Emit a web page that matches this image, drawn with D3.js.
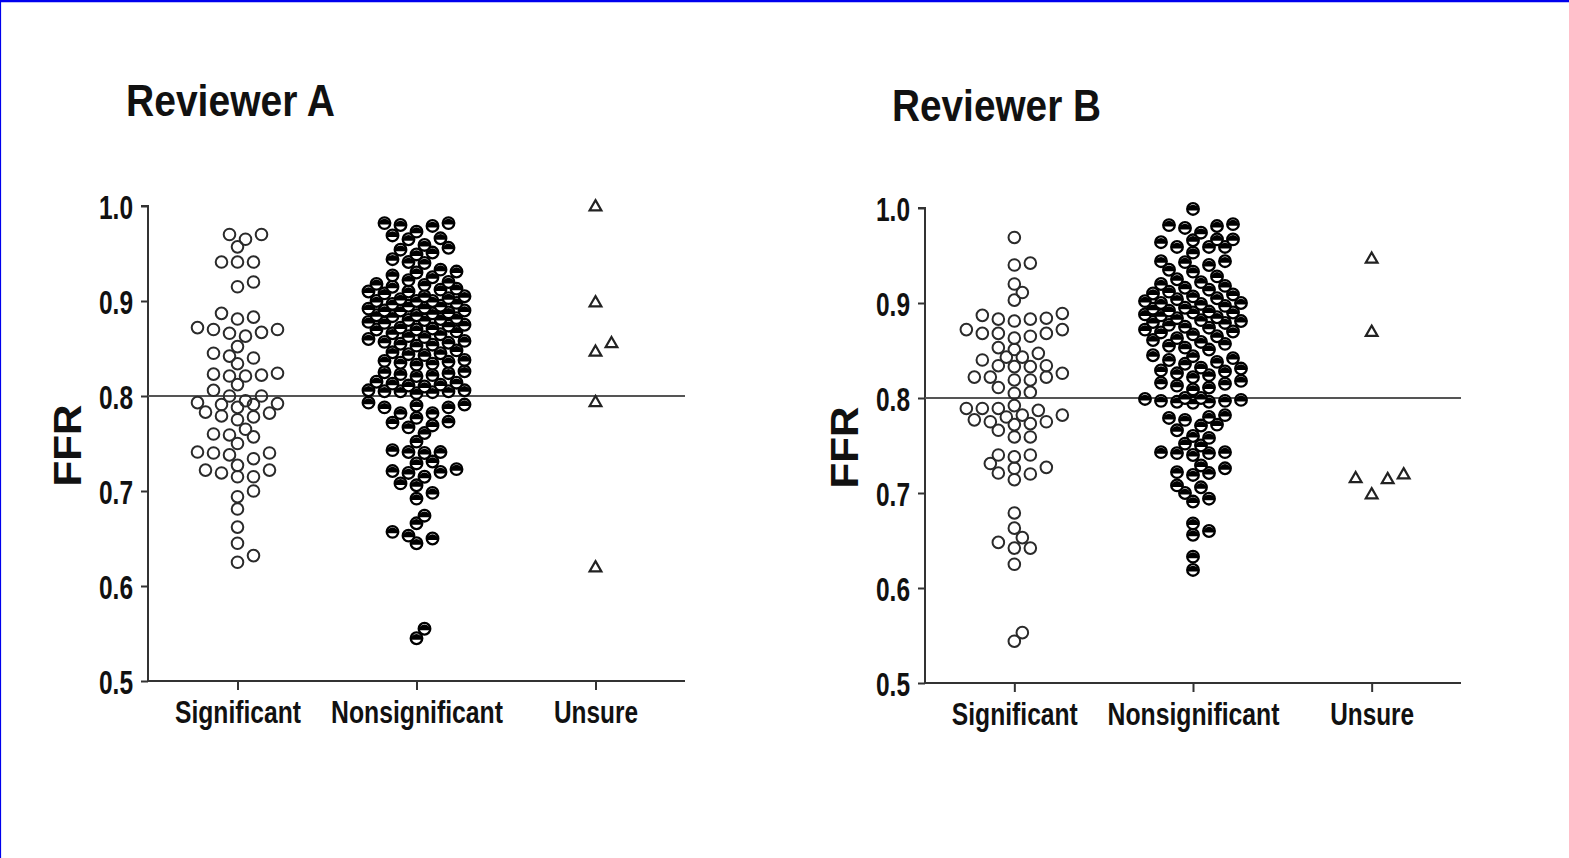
<!DOCTYPE html>
<html>
<head>
<meta charset="utf-8">
<script src="https://cdn.jsdelivr.net/npm/d3@7"></script>
<style>
  html, body { margin: 0; padding: 0; background: #fff; }
  svg { display: block; }
  text { font-family: "Liberation Sans", Arial, sans-serif; font-weight: bold; fill: #111; }
</style>
</head>
<body>
<svg id="chart" width="1569" height="858"></svg>
<script>
// Category labels along the x axis
const categories = ["Significant", "Nonsignificant", "Unsure"];
// Y axis ticks (FFR)
const yTicks = [0.5, 0.6, 0.7, 0.8, 0.9, 1.0];
const cutoff = 0.8;

// Reviewer A — FFR values per category
const aSignificant = [
  0.970, 0.965, 0.970, 0.957,
  0.941, 0.941, 0.941,
  0.915, 0.920,
  0.887, 0.883, 0.881,
  0.870, 0.867, 0.863, 0.866, 0.870, 0.872,
  0.852,
  0.845, 0.840, 0.834, 0.842,
  0.824, 0.821, 0.822, 0.821, 0.823,
  0.812,
  0.806, 0.800, 0.800, 0.795, 0.793, 0.792, 0.791, 0.788, 0.791,
  0.782, 0.778, 0.775, 0.779, 0.783,
  0.765, 0.759, 0.750, 0.757, 0.760,
  0.738, 0.740, 0.741, 0.740,
  0.727, 0.722, 0.715, 0.719, 0.722, 0.734, 0.715,
  0.694, 0.700,
  0.681,
  0.662,
  0.645,
  0.625, 0.632
];
const aNonsignificant = [
  0.982, 0.980, 0.969, 0.973, 0.979, 0.982,
  0.965, 0.956, 0.951, 0.949, 0.944, 0.954, 0.959, 0.966,
  0.941, 0.933, 0.930, 0.927, 0.931, 0.940,
  0.925, 0.922, 0.920, 0.918, 0.917, 0.915, 0.913, 0.912, 0.910, 0.910,
  0.908, 0.905, 0.905, 0.903, 0.902, 0.900, 0.900, 0.900, 0.898, 0.897,
  0.895, 0.895, 0.893, 0.892, 0.890, 0.890, 0.890, 0.888, 0.887, 0.885,
  0.885, 0.884, 0.882, 0.881, 0.880, 0.880, 0.878, 0.877, 0.875, 0.874,
  0.872, 0.871, 0.870, 0.870, 0.868, 0.866, 0.865, 0.863, 0.862, 0.860,
  0.858, 0.857, 0.856, 0.855, 0.854, 0.853,
  0.848, 0.846, 0.845, 0.844, 0.843,
  0.838, 0.837, 0.836, 0.835, 0.834, 0.833,
  0.826, 0.825, 0.824, 0.823, 0.822, 0.821,
  0.815, 0.814, 0.813, 0.812, 0.811, 0.810,
  0.806, 0.805, 0.805, 0.804, 0.805, 0.806, 0.803,
  0.791, 0.788, 0.782, 0.777, 0.793, 0.782, 0.788, 0.790,
  0.773, 0.769, 0.767, 0.772,
  0.761,
  0.752, 0.743,
  0.741, 0.740, 0.741,
  0.729, 0.731,
  0.720, 0.715, 0.721, 0.723, 0.719,
  0.706, 0.708,
  0.698, 0.692,
  0.674,
  0.666,
  0.657, 0.650, 0.645, 0.653,
  0.545, 0.555
];
const aUnsure = [0.999, 0.898, 0.846, 0.855, 0.793, 0.619];

// Reviewer B — FFR values per category
const bSignificant = [
  0.969,
  0.940, 0.942,
  0.920,
  0.911, 0.903,
  0.889, 0.884, 0.883, 0.883, 0.887, 0.881,
  0.865, 0.872, 0.868, 0.868, 0.868, 0.872, 0.863,
  0.853, 0.840, 0.847, 0.843, 0.851, 0.843,
  0.833, 0.834, 0.834, 0.833,
  0.822, 0.822, 0.819, 0.819, 0.822, 0.826,
  0.806, 0.805, 0.811,
  0.787, 0.792, 0.782, 0.789, 0.789, 0.789, 0.780, 0.782,
  0.775, 0.773, 0.766, 0.772, 0.775, 0.777,
  0.759, 0.759,
  0.738, 0.740, 0.740, 0.727, 0.721, 0.714, 0.720, 0.726, 0.731,
  0.679,
  0.663, 0.642, 0.648, 0.653, 0.642,
  0.625,
  0.544, 0.553
];
const bNonsignificant = [
  0.999,
  0.982, 0.979, 0.974, 0.981, 0.983,
  0.966, 0.959, 0.959, 0.967, 0.967, 0.953, 0.959, 0.964,
  0.940, 0.933, 0.944, 0.944, 0.935, 0.943,
  0.928, 0.925, 0.922, 0.920, 0.918, 0.916, 0.914, 0.912, 0.910, 0.909,
  0.907, 0.905, 0.904, 0.902, 0.900, 0.900, 0.899, 0.897, 0.895, 0.894,
  0.892, 0.891, 0.890, 0.890, 0.888, 0.887, 0.885, 0.884, 0.882, 0.881,
  0.880, 0.879, 0.877, 0.875, 0.874, 0.872, 0.870, 0.869, 0.867, 0.865,
  0.863, 0.861, 0.859, 0.857, 0.855, 0.853, 0.851,
  0.845, 0.844, 0.842, 0.840, 0.838, 0.836,
  0.832, 0.831, 0.829, 0.828, 0.826, 0.824, 0.822,
  0.818, 0.816, 0.815, 0.813, 0.811, 0.809,
  0.800, 0.799, 0.797, 0.796, 0.795, 0.796, 0.797, 0.798, 0.800,
  0.780, 0.777, 0.772, 0.766, 0.771, 0.779, 0.782,
  0.758, 0.752, 0.742, 0.743, 0.743, 0.750, 0.760, 0.742, 0.740,
  0.726, 0.708, 0.721, 0.719, 0.722, 0.729, 0.706,
  0.700, 0.691, 0.694,
  0.660, 0.668,
  0.656,
  0.633, 0.619
];
const bUnsure = [0.946, 0.869, 0.715, 0.698, 0.714, 0.719];

const reviewers = [
  { title: "Reviewer A", groups: [aSignificant, aNonsignificant, aUnsure],
    left: 148, right: 685, top: 206, bottom: 681, titleX: 126, titleY: 116 },
  { title: "Reviewer B", groups: [bSignificant, bNonsignificant, bUnsure],
    left: 925, right: 1461, top: 208, bottom: 683, titleX: 892, titleY: 121 }
];

const svg = d3.select("#chart");
const W = 1569, H = 858;

// frame: top and left edges only
svg.append("line").attr("x1", 0).attr("x2", W).attr("y1", 1).attr("y2", 1)
  .attr("stroke", "#0000ee").attr("stroke-width", 2.5);
svg.append("line").attr("x1", 0.5).attr("x2", 0.5).attr("y1", 0).attr("y2", H)
  .attr("stroke", "#0000ee").attr("stroke-width", 1.2);

const R = 5.8;            // marker radius
const MAXSLOTS = 6;       // slots each side before points start to overlap

// Simple dot-plot swarm: place each point in the nearest free horizontal slot.
function swarm(values, y, minD, step) {
  const pts = values.map(v => ({ v, y: y(v) })).sort((a, b) => a.v - b.v);
  const placed = [];
  const offsets = [0];
  for (let k = 1; k <= MAXSLOTS; k++) { offsets.push(k * step, -k * step); }
  pts.forEach(p => {
    let best = null, bestScore = -Infinity;
    for (const o of offsets) {
      let dmin = Infinity;
      for (const q of placed) {
        const dy = q.y - p.y;
        if (Math.abs(dy) > minD) continue;
        const d = Math.hypot(q.dx - o, dy);
        if (d < dmin) dmin = d;
      }
      if (dmin >= minD) { best = o; bestScore = Infinity; break; }
      if (dmin > bestScore) { bestScore = dmin; best = o; }
    }
    p.dx = best;
    placed.push(p);
  });
  return placed;
}

const labelFont = "Liberation Sans, Arial, sans-serif";

reviewers.forEach(rv => {
  const g = svg.append("g");
  const y = d3.scaleLinear().domain([0.5, 1.0]).range([rv.bottom, rv.top]);
  const x = d3.scalePoint().domain(categories).range([rv.left, rv.right]).padding(0.5);

  // title
  g.append("text").attr("x", rv.titleX).attr("y", rv.titleY)
    .attr("font-size", 45).attr("textLength", 209).attr("lengthAdjust", "spacingAndGlyphs")
    .text(rv.title);

  // y axis
  const yAxis = d3.axisLeft(y).tickValues(yTicks).tickFormat(d3.format(".1f"))
    .tickSize(7).tickPadding(8);
  const ya = g.append("g").attr("transform", `translate(${rv.left},0)`).call(yAxis);
  ya.select(".domain").attr("stroke", "#333").attr("stroke-width", 2)
    .attr("d", `M-7,${rv.top}H0V${rv.bottom}`);
  ya.selectAll(".tick line").attr("stroke", "#333").attr("stroke-width", 2);
  ya.selectAll(".tick text").attr("font-size", 34).attr("fill", "#111")
    .attr("font-family", labelFont).attr("font-weight", "bold")
    .attr("textLength", 34).attr("lengthAdjust", "spacingAndGlyphs").attr("dy", "0.36em");

  // x axis
  const xAxis = d3.axisBottom(x).tickSize(9).tickPadding(5);
  const xa = g.append("g").attr("transform", `translate(0,${rv.bottom})`).call(xAxis);
  xa.select(".domain").attr("stroke", "#333").attr("stroke-width", 2)
    .attr("d", `M${rv.left},0H${rv.right}`);
  xa.selectAll(".tick line").attr("stroke", "#333").attr("stroke-width", 2);
  xa.selectAll(".tick text").attr("font-size", 31).attr("fill", "#111")
    .attr("font-family", labelFont).attr("font-weight", "bold")
    .attr("dy", "0.9em")
    .each(function (d) {
      const widths = { "Significant": 126, "Nonsignificant": 172, "Unsure": 84 };
      d3.select(this).attr("textLength", widths[d]).attr("lengthAdjust", "spacingAndGlyphs");
    });

  // y axis title
  g.append("text")
    .attr("transform", `translate(${rv.left - 67},${(rv.top + rv.bottom) / 2 + 2}) rotate(-90)`)
    .attr("text-anchor", "middle").attr("font-size", 38)
    .attr("textLength", 82).attr("lengthAdjust", "spacingAndGlyphs")
    .text("FFR");

  // cutoff line
  g.append("line").attr("x1", rv.left).attr("x2", rv.right)
    .attr("y1", y(cutoff)).attr("y2", y(cutoff))
    .attr("stroke", "#555").attr("stroke-width", 2);

  // Significant: open circles
  const sig = swarm(rv.groups[0], y, 2 * R * 0.95, 8);
  g.append("g").selectAll("circle").data(sig).join("circle")
    .attr("cx", d => x(categories[0]) + d.dx).attr("cy", d => d.y).attr("r", R)
    .attr("fill", "none").attr("stroke", "#2a2a2a").attr("stroke-width", 2);

  // Nonsignificant: half-filled circles
  const non = swarm(rv.groups[1], y, 2 * R * 0.95, 8);
  const ng = g.append("g").selectAll("g").data(non).join("g")
    .attr("transform", d => `translate(${x(categories[1]) + d.dx},${d.y})`);
  ng.append("circle").attr("r", R).attr("fill", "#fff").attr("stroke", "#000").attr("stroke-width", 2.3);
  ng.append("path").attr("d", `M${-R},1.5A${R},${R} 0 0 1 ${R},1.5Z`).attr("fill", "#000");

  // Unsure: open triangles
  const uns = swarm(rv.groups[2], y, 16.5, 16);
  const tri = d3.symbol().type(d3.symbolTriangle).size(60);
  g.append("g").selectAll("path").data(uns).join("path")
    .attr("d", tri)
    .attr("transform", d => `translate(${x(categories[2]) + d.dx},${d.y})`)
    .attr("fill", "none").attr("stroke", "#222").attr("stroke-width", 2.2);
});
</script>
</body>
</html>
